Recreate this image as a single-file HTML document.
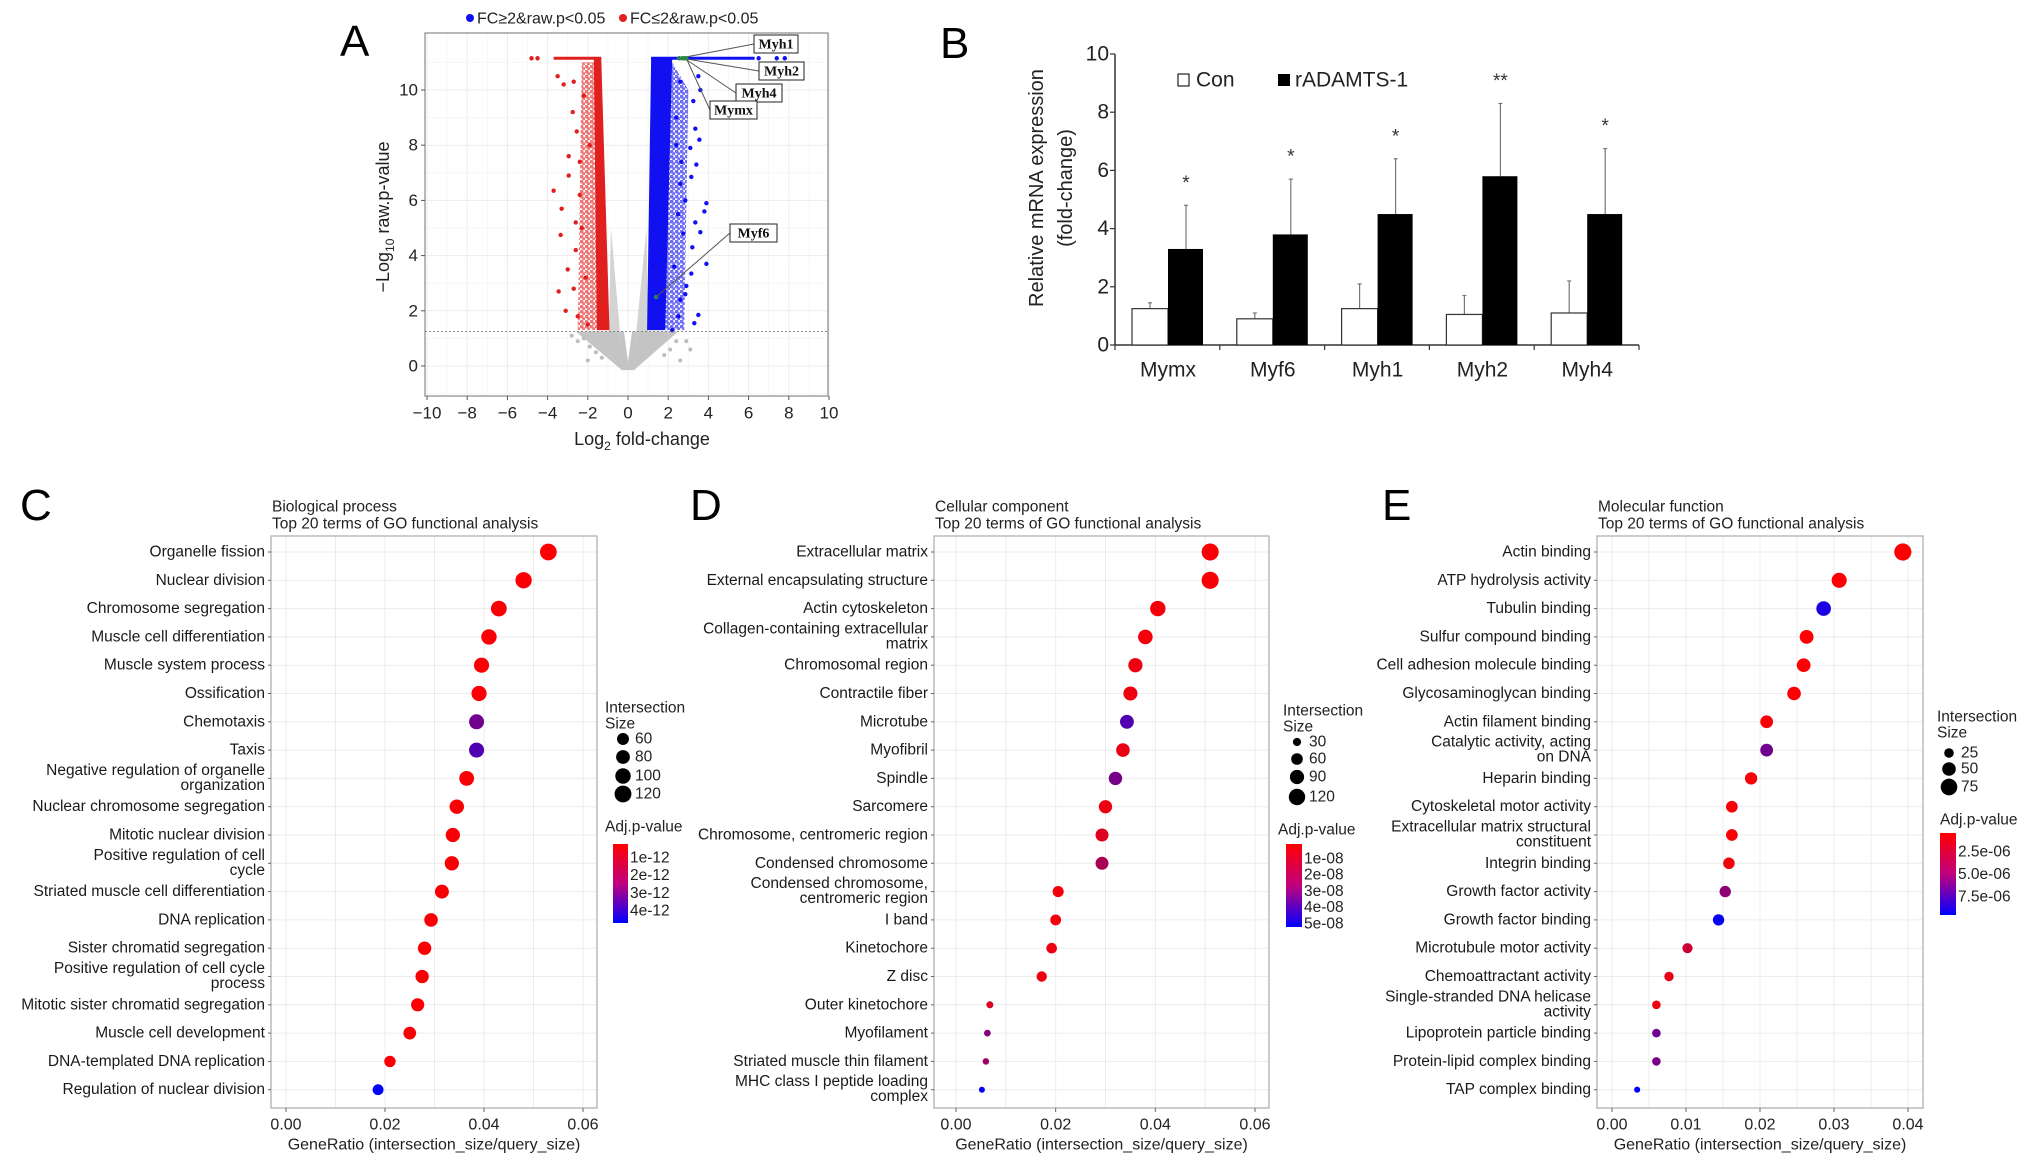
<!DOCTYPE html>
<html><head><meta charset="utf-8"><style>
html,body{margin:0;padding:0;background:#fff}
svg{display:block;font-family:"Liberation Sans",Arial,sans-serif}
</style></head><body>
<svg id="fig" width="2032" height="1169" viewBox="0 0 2032 1169" xmlns="http://www.w3.org/2000/svg">
<defs>
<pattern id="redDots" width="5" height="5" patternUnits="userSpaceOnUse"><circle cx="1.5" cy="1.5" r="2" fill="#e0201e"/><circle cx="4" cy="4" r="1.8" fill="#e0201e"/></pattern>
<pattern id="blueDots" width="5" height="5" patternUnits="userSpaceOnUse"><circle cx="1.5" cy="1.5" r="2" fill="#1010f0"/><circle cx="4" cy="4" r="1.8" fill="#1010f0"/></pattern>
</defs>
</svg>
<script>
// ---------- Panel A data ----------
const volXTicks=[-10,-8,-6,-4,-2,0,2,4,6,8,10];
const volYTicks=[0,2,4,6,8,10];
const redX=[-3.5,-3.2,-2.7,-2.75,-2.55,-2.95,-2.95,-3.7,-3.3,-3.35,-3.0,-3.45,-3.1,-2.5,-2.6,-2.2,-2.4,-2.4,-2.6,-2.7,-4.8,-4.5,-2.1,-2.3,-1.9,-2.0];
const redY=[10.5,10.2,10.3,9.2,8.5,7.6,6.9,6.35,5.7,4.75,3.5,2.7,2.0,1.8,5.2,9.8,7.4,6.2,4.2,2.8,11.15,11.15,3.2,5.0,8.0,1.5];
const blueX=[2.6,3.5,3.6,3.25,3.35,3.55,3.1,3.4,3.15,3.9,3.8,3.35,3.6,3.2,3.9,3.15,2.9,2.85,3.5,3.3,2.5,2.6,2.75,2.85,2.65,2.4,2.2,6.5,7.4,7.8,2.3,2.5,2.4,2.6];
const blueY=[10.3,10.5,10.0,9.6,8.6,8.2,7.9,7.3,6.85,5.9,5.6,5.2,4.85,4.3,3.7,3.35,2.9,2.6,1.85,1.55,1.8,2.4,4.8,6.0,7.4,9.0,1.3,11.15,11.15,11.15,3.6,5.5,8.0,6.6];
const greyX=[-2.8,-2.5,-2.2,-1.9,-1.6,-1.3,1.8,2.1,2.4,2.9,3.1,-2.0,2.6];
const greyY=[1.1,0.9,1.0,0.7,0.5,0.3,0.4,0.6,0.9,0.9,0.6,0.2,0.2];
const geneLabels=["Myh1","Myh2","Myh4","Mymx","Myf6"];
const geneX=[2.55,2.7,2.8,2.9,1.4];
const geneY=[11.15,11.15,11.15,11.15,2.5];
// ---------- Panel B data ----------
const genes=["Mymx","Myf6","Myh1","Myh2","Myh4"];
const conVals=[1.25,0.9,1.25,1.05,1.1];
const conErr=[1.45,1.1,2.1,1.7,2.2];
const radVals=[3.3,3.8,4.5,5.8,4.5];
const radErr=[4.8,5.7,6.4,8.3,6.75];
const stars=["*","*","*","**","*"];
const barYTicks=[0,2,4,6,8,10];
// ---------- Panel C ----------
const cTerms=["Organelle fission","Nuclear division","Chromosome segregation","Muscle cell differentiation","Muscle system process","Ossification","Chemotaxis","Taxis","Negative regulation of organelle|organization","Nuclear chromosome segregation","Mitotic nuclear division","Positive regulation of cell|cycle","Striated muscle cell differentiation","DNA replication","Sister chromatid segregation","Positive regulation of cell cycle|process","Mitotic sister chromatid segregation","Muscle cell development","DNA-templated DNA replication","Regulation of nuclear division"];
const cRatio=[0.053,0.048,0.043,0.041,0.0395,0.039,0.0385,0.0385,0.0365,0.0345,0.0337,0.0335,0.0315,0.0293,0.028,0.0275,0.0266,0.025,0.021,0.0186];
const cSize=[118,112,105,100,97,97,95,95,92,88,86,86,82,78,76,75,73,68,55,50];
const cPadj=[0.3e-12,0.3e-12,0.3e-12,0.3e-12,0.3e-12,0.3e-12,2.7e-12,3.3e-12,0.3e-12,0.3e-12,0.3e-12,0.3e-12,0.3e-12,0.3e-12,0.3e-12,0.3e-12,0.3e-12,0.3e-12,0.3e-12,4.8e-12];
const cXTicks=[0,0.02,0.04,0.06];
const cSizeLegend=[60,80,100,120];
const cColorTicks=[1e-12,2e-12,3e-12,4e-12];
const cColorLabels=["1e-12","2e-12","3e-12","4e-12"];
// ---------- Panel D ----------
const dTerms=["Extracellular matrix","External encapsulating structure","Actin cytoskeleton","Collagen-containing extracellular|matrix","Chromosomal region","Contractile fiber","Microtube","Myofibril","Spindle","Sarcomere","Chromosome, centromeric region","Condensed chromosome","Condensed chromosome,|centromeric region","I band","Kinetochore","Z disc","Outer kinetochore","Myofilament","Striated muscle thin filament","MHC class I peptide loading|complex"];
const dRatio=[0.051,0.051,0.0405,0.038,0.036,0.035,0.0343,0.0335,0.032,0.030,0.0293,0.0293,0.0205,0.0200,0.0192,0.0172,0.0068,0.0063,0.0060,0.0052];
const dSize=[130,130,105,95,90,88,85,82,80,78,75,75,55,52,50,48,22,20,19,16];
const dPadj=[0.2e-8,0.2e-8,0.3e-8,0.3e-8,0.4e-8,0.4e-8,3.6e-8,0.5e-8,2.8e-8,0.4e-8,0.7e-8,1.8e-8,0.3e-8,0.3e-8,0.4e-8,0.4e-8,0.8e-8,2.5e-8,2.0e-8,5.0e-8];
const dXTicks=[0,0.02,0.04,0.06];
const dSizeLegend=[30,60,90,120];
const dColorTicks=[1e-8,2e-8,3e-8,4e-8,5e-8];
const dColorLabels=["1e-08","2e-08","3e-08","4e-08","5e-08"];
// ---------- Panel E ----------
const eTerms=["Actin binding","ATP hydrolysis activity","Tubulin binding","Sulfur compound binding","Cell adhesion molecule binding","Glycosaminoglycan binding","Actin filament binding","Catalytic activity, acting|on DNA","Heparin binding","Cytoskeletal motor activity","Extracellular matrix structural|constituent","Integrin binding","Growth factor activity","Growth factor binding","Microtubule motor activity","Chemoattractant activity","Single-stranded DNA helicase|activity","Lipoprotein particle binding","Protein-lipid complex binding","TAP complex binding"];
const eRatio=[0.0393,0.0307,0.0286,0.0263,0.0259,0.0246,0.0209,0.0209,0.0188,0.0162,0.0162,0.0158,0.0153,0.0144,0.0102,0.0077,0.0060,0.0060,0.0060,0.0034];
const eSize=[80,62,58,52,51,50,44,44,41,37,37,36,35,35,28,24,20,20,20,10];
const ePadj=[0.5e-6,0.5e-6,8.5e-6,0.5e-6,0.5e-6,0.5e-6,0.6e-6,5.5e-6,0.6e-6,0.6e-6,0.6e-6,0.8e-6,4.5e-6,9.3e-6,2.2e-6,1.2e-6,1.0e-6,5.5e-6,5.2e-6,9.5e-6];
const eXTicks=[0,0.01,0.02,0.03,0.04];
const eSizeLegend=[25,50,75];
const eColorTicks=[2.5e-6,5.0e-6,7.5e-6];
const eColorLabels=["2.5e-06","5.0e-06","7.5e-06"];

const NS="http://www.w3.org/2000/svg";
const svg=document.getElementById('fig');
function mk(tag,attrs,parent,text){const e=document.createElementNS(NS,tag);for(const k in attrs)e.setAttribute(k,attrs[k]);if(text!==undefined)e.textContent=text;(parent||svg).appendChild(e);return e;}
function grp(name){const g=mk('g',{});return g;}

// ================= Panel A =================
(function(){
const g=grp('volcano-plot');
const X=v=>427+(v+10)*20.1, Y=v=>366-v*27.6;
const L=425,R=828,T=33,B=396;
mk('rect',{x:L,y:T,width:R-L,height:B-T,fill:'#fff'},g);
for(let v=-10;v<=10;v+=1){mk('line',{x1:X(v),x2:X(v),y1:T,y2:B,stroke:v%2===0?'#ececec':'#f6f6f6','stroke-width':1},g);}
for(let v=-1;v<=11;v+=1){mk('line',{x1:L,x2:R,y1:Y(v),y2:Y(v),stroke:v%2===0?'#ececec':'#f6f6f6','stroke-width':1},g);}
const poly=(pts,fill,op)=>mk('polygon',{points:pts.map(p=>X(p[0])+','+Y(p[1])).join(' '),fill:fill,opacity:op||1},g);
poly([[-2.6,1.25],[2.5,1.25],[0.3,-0.15],[-0.3,-0.15]],'#c4c4c4');
poly([[-0.95,1.25],[-0.85,5.0],[-0.3,0.4],[-0.6,1.25]],'#c8c8c8',0.8);
poly([[1.0,1.25],[0.92,5.0],[0.3,0.4],[0.6,1.25]],'#c8c8c8',0.8);
mk('polygon',{points:[X(-0.2)+','+Y(1.25),X(0.2)+','+Y(1.25),X(0)+','+Y(0.15)].join(' '),fill:'#fff'},g);
poly([[-2.3,11.0],[-1.6,11.0],[-1.45,1.3],[-2.5,1.3]],'url(#redDots)',0.6);
poly([[-1.7,11.15],[-1.33,11.15],[-0.92,1.3],[-1.55,1.3]],'#e0201e');
mk('line',{x1:X(-3.7),x2:X(-1.33),y1:Y(11.15),y2:Y(11.15),stroke:'#e0201e','stroke-width':3},g);
poly([[2.2,11.0],[3.0,10.0],[2.8,1.3],[1.8,1.3]],'url(#blueDots)',0.6);
poly([[1.15,11.15],[2.2,11.15],[1.85,1.3],[0.95,1.3]],'#1010f0');
mk('line',{x1:X(1.15),x2:X(6.3),y1:Y(11.15),y2:Y(11.15),stroke:'#1010f0','stroke-width':3},g);
for(let i=0;i<greyX.length;i++){mk('circle',{cx:X(greyX[i]),cy:Y(greyY[i]),r:2,fill:'#bdbdbd'},g);}
for(let i=0;i<redX.length;i++){const c=mk('circle',{cx:X(redX[i]),cy:Y(redY[i]),r:2.2,fill:'#e0201e'},g);}
for(let i=0;i<blueX.length;i++){const c=mk('circle',{cx:X(blueX[i]),cy:Y(blueY[i]),r:2.2,fill:'#1010f0'},g);}
mk('line',{x1:L,x2:R,y1:Y(1.25),y2:Y(1.25),stroke:'#888','stroke-width':1,'stroke-dasharray':'2,2'},g);
mk('rect',{x:L,y:T,width:R-L,height:B-T,fill:'none',stroke:'#888','stroke-width':1.2},g);
const boxes=[[754,35,44],[759,62,45],[736,84,46],[710,101,47],[730,224,47]];
for(let i=0;i<geneLabels.length;i++){
 const px=X(geneX[i]),py=Y(geneY[i]);const b=boxes[i];
 mk('circle',{cx:px,cy:py,r:2.2,fill:'#2a8a4a'},g);
 mk('line',{x1:px,y1:py,x2:b[0],y2:b[1]+9,stroke:'#555','stroke-width':1},g);
 mk('rect',{x:b[0],y:b[1],width:b[2],height:18,fill:'#fff',stroke:'#222','stroke-width':1},g);
 const t=mk('text',{x:b[0]+b[2]/2,y:b[1]+10,'text-anchor':'middle','dominant-baseline':'central','font-family':'Liberation Serif,serif','font-weight':'bold','font-size':14,fill:'#111'},g,geneLabels[i]);
 
}
volXTicks.forEach(v=>{mk('line',{x1:X(v),x2:X(v),y1:B,y2:B+4,stroke:'#555'},g);const t=mk('text',{x:X(v),y:413,'text-anchor':'middle','dominant-baseline':'central','font-size':17,fill:'#222'},g,v<0?'\u2212'+(-v):String(v));});
volYTicks.forEach(v=>{mk('line',{x1:L-4,x2:L,y1:Y(v),y2:Y(v),stroke:'#555'},g);const t=mk('text',{x:L-7,y:Y(v),'text-anchor':'end','dominant-baseline':'central','font-size':17,fill:'#222'},g,String(v));});
})();
</script>
<script>
(function(){
const s=document.getElementById('fig');
s.insertAdjacentHTML('beforeend',`
<text x="340" y="56" font-size="44" fill="#000">A</text>
<circle cx="470" cy="18" r="4" fill="#1010f0"/>
<text x="477" y="19" font-size="16" dominant-baseline="central" fill="#222">FC≥2&amp;raw.p&lt;0.05</text>
<circle cx="623" cy="18" r="4" fill="#e0201e"/>
<text x="630" y="19" font-size="16" dominant-baseline="central" fill="#222">FC≤2&amp;raw.p&lt;0.05</text>
<text x="642" y="445" font-size="18" text-anchor="middle" fill="#222">Log<tspan font-size="12" dy="5">2</tspan><tspan dy="-5"> fold-change</tspan></text>
<text transform="translate(389,217) rotate(-90)" font-size="18" text-anchor="middle" fill="#222">−Log<tspan font-size="12" dy="5">10</tspan><tspan dy="-5"> raw.p-value</tspan></text>
<text x="940" y="58" font-size="44" fill="#000">B</text>
<text x="20" y="520" font-size="44" fill="#000">C</text>
<text x="690" y="520" font-size="44" fill="#000">D</text>
<text x="1382" y="520" font-size="44" fill="#000">E</text>
`);
})();
// ================= Panel B =================
(function(){
const g=grp('bar-chart');
const x0=1115,Y=v=>345-v*29.1,gw=104.8,x1=x0+5*gw;
mk('line',{x1:x0,x2:x0,y1:Y(10),y2:Y(0),stroke:'#333','stroke-width':1.5},g);
mk('line',{x1:x0,x2:x1,y1:Y(0),y2:Y(0),stroke:'#333','stroke-width':1.5},g);
barYTicks.forEach(v=>{mk('line',{x1:x0-5,x2:x0,y1:Y(v),y2:Y(v),stroke:'#333','stroke-width':1.2},g);const t=mk('text',{x:x0-6,y:Y(v),'text-anchor':'end','dominant-baseline':'central','font-size':21,fill:'#222'},g,String(v));});
for(let i=0;i<=genes.length;i++){const tx=x0+i*gw;mk('line',{x1:tx,x2:tx,y1:Y(0),y2:Y(0)+5,stroke:'#333','stroke-width':1.2},g);}
genes.forEach((gn,i)=>{
 const s=x0+i*gw;
 mk('line',{x1:s+35,x2:s+35,y1:Y(conVals[i]),y2:Y(conErr[i]),stroke:'#777','stroke-width':1.2},g);
 mk('line',{x1:s+33,x2:s+37,y1:Y(conErr[i]),y2:Y(conErr[i]),stroke:'#777','stroke-width':1.2},g);
 mk('line',{x1:s+71,x2:s+71,y1:Y(radVals[i]),y2:Y(radErr[i]),stroke:'#777','stroke-width':1.2},g);
 mk('line',{x1:s+69,x2:s+73,y1:Y(radErr[i]),y2:Y(radErr[i]),stroke:'#777','stroke-width':1.2},g);
 const c=mk('rect',{x:s+17,y:Y(conVals[i]),width:36,height:Y(0)-Y(conVals[i]),fill:'#fff',stroke:'#333','stroke-width':1.2},g);
 
 const r=mk('rect',{x:s+53,y:Y(radVals[i]),width:35,height:Y(0)-Y(radVals[i]),fill:'#000'},g);
 
 const st=mk('text',{x:s+71,y:Y(radErr[i])-22,'text-anchor':'middle','dominant-baseline':'central','font-size':19,fill:'#333'},g,stars[i]);
 
 const t=mk('text',{x:s+53,y:370,'text-anchor':'middle','dominant-baseline':'central','font-size':21,fill:'#222'},g,gn);
 
});
})();
document.getElementById('fig').insertAdjacentHTML('beforeend',`
<rect x="1178" y="74" width="11" height="12" fill="#fff" stroke="#222" stroke-width="1.2"/>
<text x="1196" y="80" font-size="21" dominant-baseline="central" fill="#222">Con</text>
<rect x="1278" y="74" width="12" height="12" fill="#000"/>
<text x="1295" y="80" font-size="21" dominant-baseline="central" fill="#222">rADAMTS-1</text>
<text transform="translate(1037,188) rotate(-90)" font-size="20" text-anchor="middle" dominant-baseline="central" fill="#222">Relative mRNA expression</text>
<text transform="translate(1066,188) rotate(-90)" font-size="20" text-anchor="middle" dominant-baseline="central" fill="#222">(fold-change)</text>
`);
// ================= GO dot plots =================
function colorFor(p,pmin,pmax){let t=(p-pmin)/(pmax-pmin);t=Math.max(0,Math.min(1,t));return 'rgb('+Math.round(255*(1-t))+',0,'+Math.round(255*t)+')';}
function dotPlot(o){
 const g=grp(o.name);
 const X=v=>o.x0+v*o.scale;
 const T=536,B=1108;
 const rowY=i=>552+i*28.3;
 mk('rect',{x:o.L,y:T,width:o.R-o.L,height:B-T,fill:'#fff'},g);
 const step=o.ticks[1]-o.ticks[0];
 for(let v=o.ticks[0]-step/2;v<=o.ticks[o.ticks.length-1]+step;v+=step/2){const xx=X(v);if(xx>o.L&&xx<o.R)mk('line',{x1:xx,x2:xx,y1:T,y2:B,stroke:'#ececec','stroke-width':1},g);}
 o.terms.forEach((_,i)=>mk('line',{x1:o.L,x2:o.R,y1:rowY(i),y2:rowY(i),stroke:'#ececec','stroke-width':1},g));
 mk('rect',{x:o.L,y:T,width:o.R-o.L,height:B-T,fill:'none',stroke:'#b0b0b0','stroke-width':1.3},g);
 o.terms.forEach((term,i)=>{
  const y=rowY(i);const parts=term.split('|');
  mk('line',{x1:o.L-3,x2:o.L,y1:y,y2:y,stroke:'#666'},g);
  if(parts.length===1){const t=mk('text',{x:o.L-6,y:y,'text-anchor':'end','dominant-baseline':'central','font-size':15.5,fill:'#1a1a1a'},g,term);}
  else{parts.forEach((p,k)=>{const t=mk('text',{x:o.L-6,y:y+(k===0?-8:7),'text-anchor':'end','dominant-baseline':'central','font-size':15.5,fill:'#1a1a1a'},g,p);});}
  const c=mk('circle',{cx:X(o.ratio[i]),cy:y,r:o.k*Math.sqrt(o.size[i]),fill:colorFor(o.padj[i],o.pmin,o.pmax)},g);
  
 });
 o.ticks.forEach(v=>{mk('line',{x1:X(v),x2:X(v),y1:B,y2:B+4,stroke:'#666'},g);const t=mk('text',{x:X(v),y:1125,'text-anchor':'middle','dominant-baseline':'central','font-size':16,fill:'#222'},g,v.toFixed(o.dec));});
 const xt=mk('text',{x:(o.L+o.R)/2,y:1145,'text-anchor':'middle','dominant-baseline':'central','font-size':16,fill:'#222'},g,'GeneRatio (intersection_size/query_size)');
 
 const t1=mk('text',{x:o.L+1,y:507,'dominant-baseline':'central','font-size':15.5,fill:'#222'},g,o.title);
 
 const t2=mk('text',{x:o.L+1,y:524,'dominant-baseline':'central','font-size':15.5,fill:'#222'},g,'Top 20 terms of GO functional analysis');
 
 const lg=o.lg;
 mk('text',{x:lg.x,y:lg.sy,'dominant-baseline':'central','font-size':15.5,fill:'#222'},g,'Intersection');
 mk('text',{x:lg.x,y:lg.sy+16,'dominant-baseline':'central','font-size':15.5,fill:'#222'},g,'Size');
 o.sizeLeg.forEach((s,i)=>{const c=mk('circle',{cx:lg.cx,cy:lg.cy[i],r:o.k*Math.sqrt(s),fill:'#000'},g);mk('text',{x:lg.cx+12,y:lg.cy[i],'dominant-baseline':'central','font-size':15.5,fill:'#222'},g,String(s));});
 mk('text',{x:lg.ax,y:lg.ay,'dominant-baseline':'central','font-size':15.5,fill:'#222'},g,'Adj.p-value');
 const gid='grad-'+o.name;
 const defs=mk('defs',{},g);const lgr=mk('linearGradient',{id:gid,x1:0,y1:0,x2:0,y2:1},defs);
 mk('stop',{offset:0,'stop-color':'#ff0000'},lgr);mk('stop',{offset:0.5,'stop-color':'#c0007f'},lgr);mk('stop',{offset:1,'stop-color':'#0000ff'},lgr);
 const cb=mk('rect',{x:lg.bx,y:lg.by0,width:lg.bw,height:lg.by1-lg.by0,fill:'url(#'+gid+')'},g);
 
 o.cTicks.forEach((p,i)=>{const yy=lg.by0+(p-o.pmin)/(o.pmax-o.pmin)*(lg.by1-lg.by0);mk('text',{x:lg.bx+lg.bw+2,y:yy,'dominant-baseline':'central','font-size':15.5,fill:'#222'},g,o.cLabels[i]);});
}
dotPlot({name:'go-biological-process',L:271,R:597,x0:286,scale:297/0.06,terms:cTerms,ratio:cRatio,size:cSize,padj:cPadj,pmin:0.21e-12,pmax:4.68e-12,k:0.77,ticks:cXTicks,dec:2,title:'Biological process',
 lg:{x:605,sy:708,cx:623,cy:[739,757,776,794],ax:605,ay:827,bx:613,bw:15,by0:844,by1:923},sizeLeg:cSizeLegend,cTicks:cColorTicks,cLabels:cColorLabels});
dotPlot({name:'go-cellular-component',L:934,R:1269,x0:956,scale:299/0.06,terms:dTerms,ratio:dRatio,size:dSize,padj:dPadj,pmin:0.08e-8,pmax:5.2e-8,k:0.75,ticks:dXTicks,dec:2,title:'Cellular component',
 lg:{x:1283,sy:711,cx:1297,cy:[742,759,777,797],ax:1278,ay:830,bx:1286,bw:16,by0:844,by1:927},sizeLeg:dSizeLegend,cTicks:dColorTicks,cLabels:dColorLabels});
dotPlot({name:'go-molecular-function',L:1597,R:1923,x0:1612,scale:296/0.04,terms:eTerms,ratio:eRatio,size:eSize,padj:ePadj,pmin:0.39e-6,pmax:9.5e-6,k:0.96,ticks:eXTicks,dec:2,title:'Molecular function',
 lg:{x:1937,sy:717,cx:1949,cy:[753,769,787],ax:1940,ay:820,bx:1940,bw:16,by0:833,by1:915},sizeLeg:eSizeLegend,cTicks:eColorTicks,cLabels:eColorLabels});
</script>
</body></html>
